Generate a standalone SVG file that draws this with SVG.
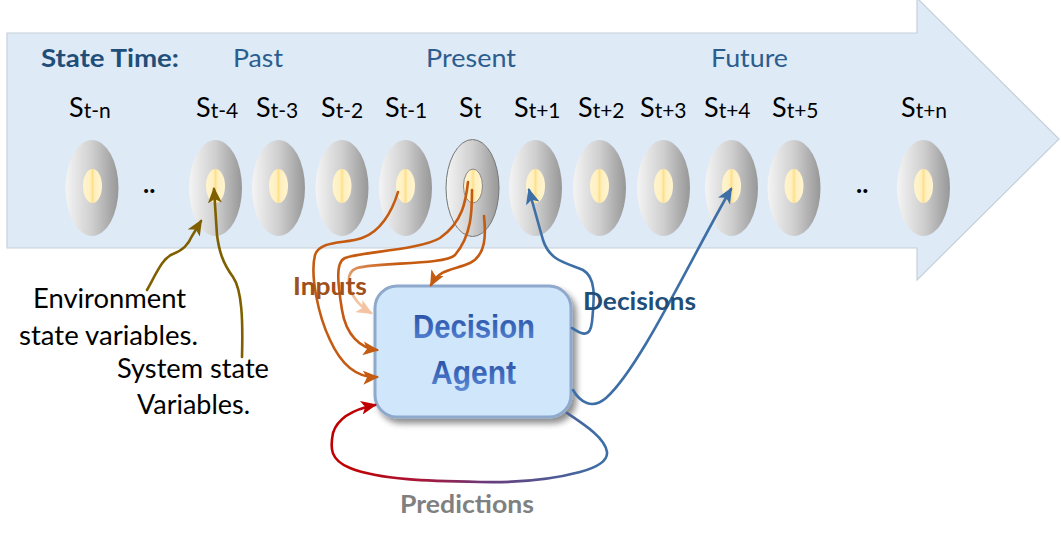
<svg xmlns="http://www.w3.org/2000/svg" width="1061" height="539" viewBox="0 0 1061 539">
<defs>
<style>
.hdr{font-family:Lato,"Liberation Sans",sans-serif;font-size:25px;fill:#2c5d8f}
.hdrb{font-weight:bold;fill:#1f4e79}
.sl{font-family:Lato,"Liberation Sans",sans-serif;font-size:27px;fill:#000}
.sub{font-size:21px}
.dots{font-family:Lato,"Liberation Sans",sans-serif;font-size:26px;font-weight:bold;fill:#000}
.lbl{font-family:Lato,"Liberation Sans",sans-serif;font-size:26px;fill:#000}
.blbl{font-family:Lato,"Liberation Sans",sans-serif;font-size:25px;font-weight:bold}
.agent{font-family:"Liberation Sans",Arial,sans-serif;font-size:34px;font-weight:bold;fill:url(#txtGrad)}
.outer{fill:url(#ellGrad)}
.inner{fill:url(#innGrad)}
.con{fill:none;stroke-width:2.6;stroke-linecap:round}
.olive{stroke:#7f6000}
.orange{stroke:#c55a11}
.blue{stroke:#3d6fa6}
</style>
<linearGradient id="ellGrad" x1="0" y1="0" x2="1" y2="0">
<stop offset="0" stop-color="#f4f4f4"/>
<stop offset="0.5" stop-color="#cfcfcf"/>
<stop offset="1" stop-color="#979797"/>
</linearGradient>
<linearGradient id="innGrad" x1="0" y1="0" x2="1" y2="0">
<stop offset="0" stop-color="#fff4d0"/>
<stop offset="0.38" stop-color="#fff0c0"/>
<stop offset="0.5" stop-color="#ffe08a"/>
<stop offset="0.62" stop-color="#fff0c0"/>
<stop offset="1" stop-color="#fff4d0"/>
</linearGradient>
<linearGradient id="txtGrad" x1="0" y1="0" x2="0" y2="1">
<stop offset="0" stop-color="#24499a"/>
<stop offset="0.6" stop-color="#3f6cbf"/>
<stop offset="1" stop-color="#5f8dd6"/>
</linearGradient>
<linearGradient id="fadeGrad" gradientUnits="userSpaceOnUse" x1="395" y1="262" x2="365" y2="312">
<stop offset="0" stop-color="#c55a11"/>
<stop offset="1" stop-color="#f6cdb0"/>
</linearGradient>
<linearGradient id="predGrad" gradientUnits="userSpaceOnUse" x1="600" y1="0" x2="345" y2="0">
<stop offset="0" stop-color="#3d6fa6"/>
<stop offset="0.45" stop-color="#6a3a7a"/>
<stop offset="0.7" stop-color="#a8163a"/>
<stop offset="1" stop-color="#c00000"/>
</linearGradient>
<filter id="shadow" x="-10%" y="-10%" width="125%" height="130%">
<feGaussianBlur in="SourceAlpha" stdDeviation="3"/>
<feOffset dx="4" dy="5" result="b"/>
<feComponentTransfer><feFuncA type="linear" slope="0.45"/></feComponentTransfer>
<feMerge><feMergeNode/><feMergeNode in="SourceGraphic"/></feMerge>
</filter>
<marker id="mOlive" markerUnits="userSpaceOnUse" markerWidth="16" markerHeight="14" viewBox="0 0 16 14" refX="14" refY="7" orient="auto"><path d="M0,0 L16,7 L0,14 L4,7 z" fill="#7f6000"/></marker>
<marker id="mOrange" markerUnits="userSpaceOnUse" markerWidth="16" markerHeight="14" viewBox="0 0 16 14" refX="14" refY="7" orient="auto"><path d="M0,0 L16,7 L0,14 L4,7 z" fill="#c55a11"/></marker>
<marker id="mFade" markerUnits="userSpaceOnUse" markerWidth="16" markerHeight="14" viewBox="0 0 16 14" refX="14" refY="7" orient="auto"><path d="M0,0 L16,7 L0,14 L4,7 z" fill="#f4c4a2"/></marker>
<marker id="mBlue" markerUnits="userSpaceOnUse" markerWidth="16" markerHeight="14" viewBox="0 0 16 14" refX="14" refY="7" orient="auto"><path d="M0,0 L16,7 L0,14 L4,7 z" fill="#3d6fa6"/></marker>
<marker id="mRed" markerUnits="userSpaceOnUse" markerWidth="16" markerHeight="14" viewBox="0 0 16 14" refX="14" refY="7" orient="auto"><path d="M0,0 L16,7 L0,14 L4,7 z" fill="#c00000"/></marker>
</defs>

<rect width="1061" height="539" fill="#ffffff"/>

<g id="timeline">
<path d="M7,33 L917,33 L917,-2 L1059,139 L917,280 L917,248 L7,248 Z" fill="#deeaf6" stroke="#c5d0da" stroke-width="1.2"/>
<text class="hdr hdrb" x="41" y="67" textLength="138" lengthAdjust="spacingAndGlyphs">State Time:</text>
<text class="hdr" x="233" y="67" textLength="50" lengthAdjust="spacingAndGlyphs">Past</text>
<text class="hdr" x="426" y="67" textLength="90" lengthAdjust="spacingAndGlyphs">Present</text>
<text class="hdr" x="711" y="67" textLength="77" lengthAdjust="spacingAndGlyphs">Future</text>
<text class="dots" x="143" y="193">..</text>
<text class="dots" x="856" y="193">..</text>
</g>

<g id="s-t-n"><text class="sl" x="69" y="117">S<tspan class="sub" dy="1">t-n</tspan></text><ellipse class="outer" cx="92" cy="188" rx="26.5" ry="48"/><ellipse class="inner" cx="92.5" cy="186" rx="9.5" ry="17"/></g>
<g id="s-t-4"><text class="sl" x="196" y="117">S<tspan class="sub" dy="1">t-4</tspan></text><ellipse class="outer" cx="215.5" cy="188" rx="26.5" ry="48"/><ellipse class="inner" cx="215.5" cy="186" rx="9.5" ry="17"/></g>
<g id="s-t-3"><text class="sl" x="256" y="117">S<tspan class="sub" dy="1">t-3</tspan></text><ellipse class="outer" cx="278.5" cy="188" rx="26.5" ry="48"/><ellipse class="inner" cx="278.5" cy="186" rx="9.5" ry="17"/></g>
<g id="s-t-2"><text class="sl" x="321" y="117">S<tspan class="sub" dy="1">t-2</tspan></text><ellipse class="outer" cx="342" cy="188" rx="26.5" ry="48"/><ellipse class="inner" cx="342" cy="186" rx="9.5" ry="17"/></g>
<g id="s-t-1"><text class="sl" x="385" y="117">S<tspan class="sub" dy="1">t-1</tspan></text><ellipse class="outer" cx="405.5" cy="188" rx="26.5" ry="48"/><ellipse class="inner" cx="405.5" cy="186" rx="9.5" ry="17"/></g>
<g id="s-t"><text class="sl" x="459" y="117">S<tspan class="sub" dy="1">t</tspan></text><ellipse class="outer" cx="472.5" cy="188" rx="26.5" ry="48.5" stroke="#777" stroke-width="1"/><ellipse class="inner" cx="473" cy="186" rx="9.5" ry="17" stroke="#888" stroke-width="1"/></g>
<g id="s-t1"><text class="sl" x="514" y="117">S<tspan class="sub" dy="1">t+1</tspan></text><ellipse class="outer" cx="535.5" cy="188" rx="26.5" ry="48"/><ellipse class="inner" cx="535.5" cy="186" rx="9.5" ry="17"/></g>
<g id="s-t2"><text class="sl" x="578" y="117">S<tspan class="sub" dy="1">t+2</tspan></text><ellipse class="outer" cx="599.5" cy="188" rx="26.5" ry="48"/><ellipse class="inner" cx="599.5" cy="186" rx="9.5" ry="17"/></g>
<g id="s-t3"><text class="sl" x="640" y="117">S<tspan class="sub" dy="1">t+3</tspan></text><ellipse class="outer" cx="663.5" cy="188" rx="26.5" ry="48"/><ellipse class="inner" cx="663.5" cy="186" rx="9.5" ry="17"/></g>
<g id="s-t4"><text class="sl" x="704" y="117">S<tspan class="sub" dy="1">t+4</tspan></text><ellipse class="outer" cx="731.5" cy="188" rx="26.5" ry="48"/><ellipse class="inner" cx="731.5" cy="186" rx="9.5" ry="17"/></g>
<g id="s-t5"><text class="sl" x="772" y="117">S<tspan class="sub" dy="1">t+5</tspan></text><ellipse class="outer" cx="794" cy="188" rx="26.5" ry="48"/><ellipse class="inner" cx="794" cy="186" rx="9.5" ry="17"/></g>
<g id="s-tn"><text class="sl" x="901" y="117">S<tspan class="sub" dy="1">t+n</tspan></text><ellipse class="outer" cx="923.5" cy="188" rx="26.5" ry="48"/><ellipse class="inner" cx="923.5" cy="186" rx="9.5" ry="17"/></g>

<g id="agent">
<rect x="375" y="286" width="196" height="131" rx="22" ry="22" fill="#cfe6fb" stroke="#8ea9cc" stroke-width="3" filter="url(#shadow)"/>
<text class="agent" x="413" y="338" textLength="122" lengthAdjust="spacingAndGlyphs">Decision</text>
<text class="agent" x="431" y="384" textLength="85" lengthAdjust="spacingAndGlyphs">Agent</text>
</g>

<g id="connectors">
<path class="con olive" d="M147,290 C158,270 163,258 173,254 C183,250 188,245 192,236 L201,221" marker-end="url(#mOlive)"/>
<path class="con olive" d="M242,357 C243,320 242,290 233,277 C222,262 219,250 217,235 L214,189" marker-end="url(#mOlive)"/>
<path class="con orange" d="M398,192 C392,212 380,232 362,238 C345,244 320,240 315,255 C310,275 318,315 330,340 C340,362 355,378 377,377" marker-end="url(#mOrange)"/>
<path class="con orange" d="M468,182 C466,200 463,222 440,238 C420,250 360,252 345,258 C335,262 338,285 342,310 C346,335 360,348 377,350" marker-end="url(#mOrange)"/>
<path class="con" stroke="url(#fadeGrad)" d="M472,190 C472,210 472,235 455,255 C445,265 380,262 357,268 C345,272 348,288 354,297 C359,305 364,309 371,313" marker-end="url(#mFade)"/>
<path class="con orange" d="M484,216 C486,235 486,255 470,263 C455,270 440,268 431,285" marker-end="url(#mOrange)"/>
<path class="con blue" d="M572,328 C580,333 590,340 592,322 C594,300 597,278 583,270 C568,263 550,262 543,240 L529,190" marker-end="url(#mBlue)"/>
<path class="con blue" d="M573,390 C580,402 592,410 606,398 C640,368 690,260 731,189" marker-end="url(#mBlue)"/>
<path class="con" stroke="url(#predGrad)" d="M567,413 C585,425 605,438 607,452 C608,462 595,468 580,472 C550,480 520,483 480,482 C430,481 380,480 350,468 C330,460 330,448 333,433 C337,420 350,410 375,405" marker-end="url(#mRed)"/>
</g>

<g id="labels">
<text class="lbl" x="33" y="308" textLength="153" lengthAdjust="spacingAndGlyphs">Environment</text>
<text class="lbl" x="19" y="345" textLength="179" lengthAdjust="spacingAndGlyphs">state variables.</text>
<text class="lbl" x="117" y="378" textLength="152" lengthAdjust="spacingAndGlyphs">System state</text>
<text class="lbl" x="137" y="414" textLength="113" lengthAdjust="spacingAndGlyphs">Variables.</text>
<text class="blbl" x="293" y="295" fill="#a0501a" textLength="74" lengthAdjust="spacingAndGlyphs">Inputs</text>
<text class="blbl" x="583" y="310" fill="#1f4e79" textLength="113" lengthAdjust="spacingAndGlyphs">Decisions</text>
<text class="blbl" x="400" y="513" fill="#808080" textLength="134" lengthAdjust="spacingAndGlyphs">Predictions</text>
</g>
</svg>
